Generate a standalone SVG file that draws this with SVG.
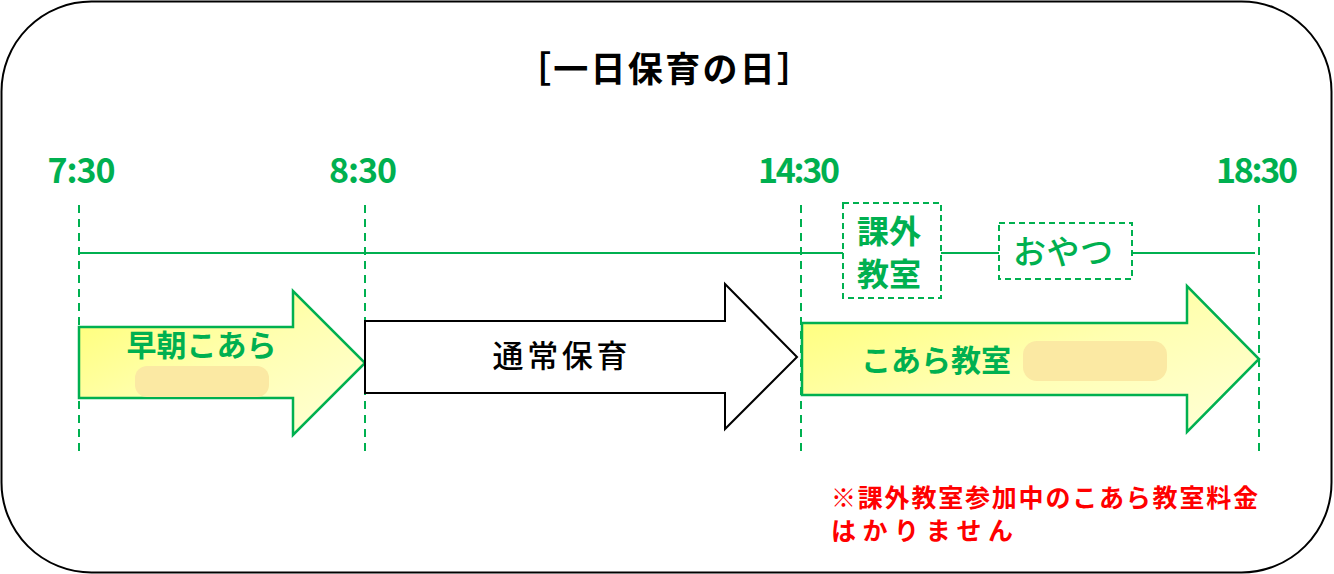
<svg xmlns="http://www.w3.org/2000/svg" width="1334" height="574" viewBox="0 0 1334 574">
<style>
text{font-family:"Noto Sans CJK JP","Noto Sans",sans-serif}
.time{fill:#00b050;font-size:34px;font-weight:bold;text-anchor:middle}
.g{fill:#00b050;text-anchor:middle}
.vdash{stroke:#00b050;stroke-width:2;stroke-dasharray:8 6;fill:none}
.hline{stroke:#00b050;stroke-width:2;fill:none}
.box{stroke:#00b050;stroke-width:2;stroke-dasharray:6 4;fill:#fff}
.yarrow{fill:url(#yg);stroke:#00b050;stroke-width:2.5;stroke-linejoin:miter}
.pill{fill:#fbe9a3}
.note{fill:#ff0000;font-size:25px;font-weight:bold}
</style>
<defs>
<linearGradient id="yg" x1="0" y1="0" x2="1" y2="1">
<stop offset="0" stop-color="#ffff70"/>
<stop offset="0.5" stop-color="#ffffb0"/>
<stop offset="1" stop-color="#ffffd8"/>
</linearGradient>
</defs>
<rect id="frame" x="1.5" y="1.5" width="1330" height="571" rx="90" ry="90" fill="#fff" stroke="#000" stroke-width="2"/>
<g id="title"><text x="664" y="82" font-size="35" font-weight="bold" text-anchor="middle" fill="#000" textLength="296" lengthAdjust="spacing">［一日保育の日］</text></g>
<g id="times">
<text class="time" x="81.5" y="183" textLength="68" lengthAdjust="spacing">7:30</text>
<text class="time" x="363" y="183" textLength="68" lengthAdjust="spacing">8:30</text>
<text class="time" x="799" y="183" textLength="82" lengthAdjust="spacing">14:30</text>
<text class="time" x="1257" y="183" textLength="82" lengthAdjust="spacing">18:30</text>
</g>
<g id="connectors">
<line class="vdash" x1="79" y1="205" x2="79" y2="452"/>
<line class="vdash" x1="365" y1="205" x2="365" y2="452"/>
<line class="vdash" x1="801" y1="205" x2="801" y2="452"/>
<line class="vdash" x1="1259" y1="205" x2="1259" y2="452"/>
<line class="hline" x1="79" y1="253" x2="843" y2="253"/>
<line class="hline" x1="941" y1="253" x2="999" y2="253"/>
<line class="hline" x1="1132" y1="253" x2="1255" y2="253"/>
</g>
<g id="early">
<polygon class="yarrow" points="79,327 293,327 293,291 365,363 293,435 293,398 79,398"/>
<text class="g" x="201.5" y="356" font-size="30" font-weight="bold" textLength="150" lengthAdjust="spacing">早朝こあら</text>
<rect class="pill" x="135" y="366" width="134" height="31" rx="12"/>
</g>
<g id="normal">
<polygon points="365,321 725,321 725,284 797,357 725,429 725,393 365,393" fill="#fff" stroke="#000" stroke-width="2"/>
<text x="560" y="367" font-size="31" font-weight="500" text-anchor="middle" fill="#000" textLength="135" lengthAdjust="spacing">通常保育</text>
</g>
<g id="koala">
<polygon class="yarrow" points="802,323 1187,323 1187,286 1259,359 1187,432 1187,395 802,395"/>
<text class="g" x="936" y="371" font-size="30" font-weight="bold" textLength="150" lengthAdjust="spacing">こあら教室</text>
<rect class="pill" x="1023" y="341" width="144" height="40" rx="14"/>
</g>
<g id="extra">
<rect class="box" x="843" y="203" width="98" height="95"/>
<text class="g" x="889" y="243" font-size="32" font-weight="bold">課外</text>
<text class="g" x="889" y="286" font-size="32" font-weight="bold">教室</text>
</g>
<g id="snack">
<rect class="box" x="999" y="223" width="133" height="56"/>
<text class="g" x="1063" y="264" font-size="33" font-weight="500" textLength="100" lengthAdjust="spacing">おやつ</text>
</g>
<g id="note">
<text class="note" x="831" y="507" textLength="427" lengthAdjust="spacing">※課外教室参加中のこあら教室料金</text>
<text class="note" x="831" y="540" textLength="182" lengthAdjust="spacing">はかりません</text>
</g>
</svg>
